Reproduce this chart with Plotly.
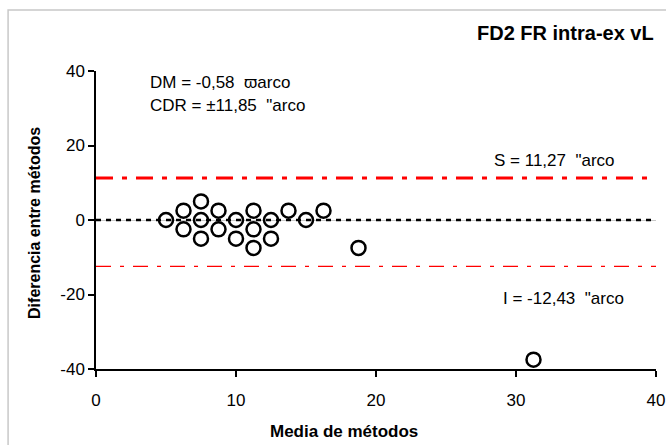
import plotly.graph_objects as go

# Bland-Altman: mean of methods vs. difference between methods
media = [5, 6.25, 6.25, 7.5, 7.5, 7.5, 8.75, 8.75, 10, 10,
         11.25, 11.25, 11.25, 12.5, 12.5, 13.75, 15, 16.25, 18.75, 31.25]
diferencia = [0, 2.5, -2.5, 5, 0, -5, 2.5, -2.5, 0, -5,
              2.5, -2.5, -7.5, 0, -5, 2.5, 0, 2.5, -7.5, -37.5]

dm = -0.58
lim_sup = 11.27
lim_inf = -12.43
cdr = 11.85

x_ticks = [0, 10, 20, 30, 40]
y_ticks = [-40, -20, 0, 20, 40]

FONT = "Liberation Sans, Arial, sans-serif"


def coma(v):
    return f"{v:.2f}".replace(".", ",")


fig = go.Figure()

fig.add_trace(go.Scatter(
    x=media, y=diferencia, mode="markers",
    marker=dict(symbol="circle-open", size=14, color="black",
                line=dict(width=2.5, color="black")),
    showlegend=False, hoverinfo="skip",
))

# mean difference (zero) and limits of agreement
fig.add_shape(type="line", xref="x", yref="y", x0=0, x1=40, y0=0, y1=0,
              line=dict(color="black", width=2.5, dash="5px,5px"))
fig.add_shape(type="line", xref="x", yref="y", x0=0, x1=40, y0=lim_sup, y1=lim_sup,
              line=dict(color="#ff0000", width=3, dash="17px,9px,5px,9px"))
fig.add_shape(type="line", xref="x", yref="y", x0=0, x1=40, y0=lim_inf, y1=lim_inf,
              line=dict(color="#ff0000", width=1.2, dash="15px,9px,4px,9px"))

# outer chart frame
fig.add_shape(type="rect", xref="paper", yref="paper",
              x0=-0.157, x1=1.2, y0=-0.3, y1=1.2051,
              line=dict(color="#c8c8c8", width=1.5), layer="below")

txt = dict(family=FONT, size=17, color="black")
fig.add_annotation(x=3.7, y=36.9, xref="x", yref="y", xanchor="left", yanchor="middle",
                   text=f"DM = {coma(dm)}  ϖarco", showarrow=False, font=txt)
fig.add_annotation(x=3.7, y=30.7, xref="x", yref="y", xanchor="left", yanchor="middle",
                   text=f"CDR = ±{coma(cdr)}  \"arco", showarrow=False, font=txt)
fig.add_annotation(x=28.3, y=16.0, xref="x", yref="y", xanchor="left", yanchor="middle",
                   text=f"S = {coma(lim_sup)}  \"arco", showarrow=False, font=txt)
fig.add_annotation(x=28.95, y=-21.0, xref="x", yref="y", xanchor="left", yanchor="middle",
                   text=f"I = {coma(lim_inf)}  \"arco", showarrow=False, font=txt)

fig.add_annotation(x=1.0, y=1.128, xref="paper", yref="paper", xanchor="right", yanchor="middle",
                   text="<b>FD2 FR intra-ex vL</b>", showarrow=False,
                   font=dict(family=FONT, size=20, color="black"))

# axis titles
fig.add_annotation(x=0.443, y=-0.211, xref="paper", yref="paper", xanchor="center", yanchor="middle",
                   text="<b>Media de métodos</b>", showarrow=False,
                   font=dict(family=FONT, size=17, color="black"))
fig.add_annotation(x=-0.109, y=0.49, xref="paper", yref="paper", xanchor="center", yanchor="middle",
                   text="<b>Diferencia entre métodos</b>", showarrow=False, textangle=-90,
                   font=dict(family=FONT, size=16, color="black"))

fig.update_xaxes(
    range=[0, 40], tickvals=x_ticks, ticktext=[str(t) for t in x_ticks],
    ticks="outside", ticklen=6, tickwidth=1.5, ticklabelstandoff=9,
    tickcolor="black", showline=True, linecolor="black", linewidth=1.5,
    showgrid=False, zeroline=False, automargin=False,
    tickfont=dict(family=FONT, size=17, color="black"),
)
fig.update_yaxes(
    range=[-40, 40], tickvals=y_ticks, ticktext=[str(t) for t in y_ticks],
    ticks="outside", ticklen=6, tickwidth=1.5, automargin=False,
    tickcolor="black", showline=True, linecolor="black", linewidth=1.5,
    showgrid=False, zeroline=True, zerolinecolor="#c8c8c8", zerolinewidth=1,
    tickfont=dict(family=FONT, size=17, color="black"),
)

fig.update_layout(
    width=666, height=445,
    margin=dict(l=96, r=10, t=71, b=76),
    paper_bgcolor="white", plot_bgcolor="white",
)

fig.write_html("out.html")
